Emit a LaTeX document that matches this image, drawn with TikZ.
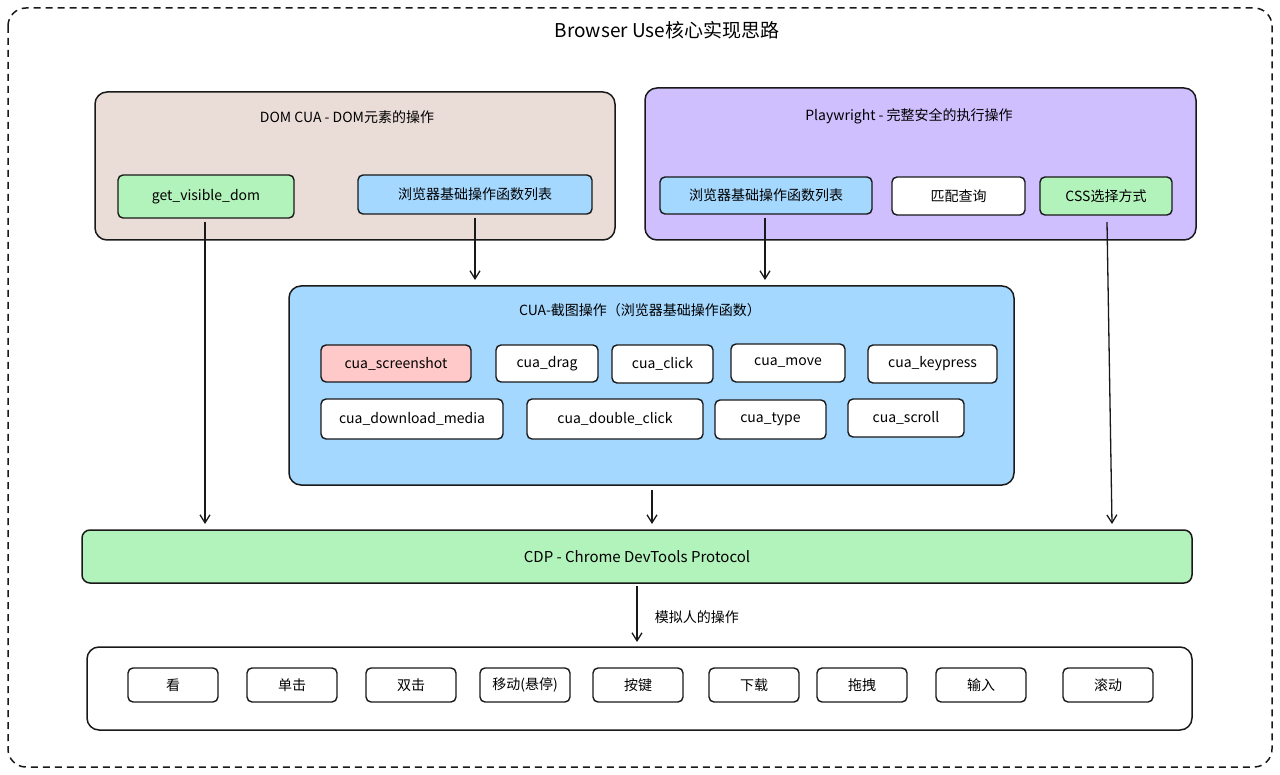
\documentclass[tikz,border=0pt]{standalone}
\usepackage{fontspec}
\setmainfont{Noto Sans CJK SC}
\usetikzlibrary{arrows.meta}
\definecolor{domc}{HTML}{EADDD8}
\definecolor{pwc}{HTML}{D0BFFF}
\definecolor{bluec}{HTML}{A5D8FF}
\definecolor{greenc}{HTML}{B2F2BB}
\definecolor{pinkc}{HTML}{FFC9C9}
\begin{document}
\begin{tikzpicture}[x=1pt,y=-1pt,
  box/.style={draw=black!90,line width=1.5pt,rounded corners=12pt},
  btn/.style={draw=black!90,line width=1.4pt,rounded corners=5pt,font=\fontsize{14}{16}\selectfont},
  lbl/.style={font=\fontsize{14}{16}\selectfont},
  arr/.style={-{Straight Barb[length=8pt,width=10pt,line width=1.3pt]},line width=1.3pt,draw=black!90}]
\useasboundingbox (0,0) rectangle (1280,775);
\draw[box,dash pattern=on 7pt off 5pt,rounded corners=18pt] (8,8) rectangle (1272,767);
\node[font=\fontsize{19}{22}\selectfont] (title) at (667,30) {Browser Use核心实现思路};
% DOM CUA
\draw[box,fill=domc] (95,92) rectangle (615,240);
\node[lbl] (domt) at (347,117) {DOM CUA - DOM元素的操作};
\draw[btn,fill=greenc] (118,175) rectangle node (gvd) {get\_visible\_dom} (294,218);
\draw[btn,fill=bluec] (358,175) rectangle node (bl1) {浏览器基础操作函数列表} (592,214);
% Playwright
\draw[box,fill=pwc] (645,88) rectangle (1196,240);
\node[lbl] (pwt) at (909,116) {Playwright - 完整安全的执行操作};
\draw[btn,fill=bluec] (660,177) rectangle node (bl2) {浏览器基础操作函数列表} (872,214);
\draw[btn,fill=white] (892,177) rectangle node (mq) {匹配查询} (1025,215);
\draw[btn,fill=greenc] (1040,177) rectangle node (css) {CSS选择方式} (1172,215);
% CUA
\draw[box,fill=bluec] (289,286) rectangle (1014,485);
\node[lbl] (cuat) at (640,310) {CUA-截图操作（浏览器基础操作函数）};
\draw[btn,fill=pinkc] (321,345) rectangle node (c1) {cua\_screenshot} (471,382);
\draw[btn,fill=white] (496,345) rectangle node (c2) {cua\_drag} (598,382);
\draw[btn,fill=white] (612,345) rectangle node (c3) {cua\_click} (713,383);
\draw[btn,fill=white] (731,344) rectangle node (c4) {cua\_move} (845,382);
\draw[btn,fill=white] (868,345) rectangle node (c5) {cua\_keypress} (997,383);
\draw[btn,fill=white] (321,399) rectangle node (c6) {cua\_download\_media} (503,439);
\draw[btn,fill=white] (527,399) rectangle node (c7) {cua\_double\_click} (703,439);
\draw[btn,fill=white] (715,400) rectangle node (c8) {cua\_type} (826,439);
\draw[btn,fill=white] (848,399) rectangle node (c9) {cua\_scroll} (964,437);
% CDP
\draw[box,fill=greenc,rounded corners=8pt] (82,530) rectangle node (cdp) {\fontsize{15}{17}\selectfont CDP - Chrome DevTools Protocol} (1192,583);
% bottom
\draw[box,fill=white] (87,647) rectangle (1192,730);
\foreach \a/\b/\t/\n in {128/218/看/b1,247/337/单击/b2,366/456/双击/b3,480/570/移动(悬停)/b4,593/683/按键/b5,709/799/下载/b6,817/907/拖拽/b7,936/1026/输入/b8,1063/1153/滚动/b9}
  \draw[btn,fill=white] (\a,668) rectangle node (\n) {\t} (\b,702);
% arrows
\coordinate (s1) at (205,222); \coordinate (e1) at (205,524);
\coordinate (s2) at (475,218); \coordinate (e2) at (475,280);
\coordinate (s3) at (765,218); \coordinate (e3) at (765,280);
\coordinate (s4) at (1107,222); \coordinate (e4) at (1112,524);
\coordinate (s5) at (652,490); \coordinate (e5) at (652,524);
\coordinate (s6) at (637,586); \coordinate (e6) at (637,642);
\draw[arr] (s1) -- (e1);
\draw[arr] (s2) -- (e2);
\draw[arr] (s3) -- (e3);
\draw[arr] (s4) -- (e4);
\draw[arr] (s5) -- (e5);
\draw[arr] (s6) -- node[lbl,right=14pt,pos=0.55] (sim) {模拟人的操作} (e6);
\end{tikzpicture}
\end{document}
